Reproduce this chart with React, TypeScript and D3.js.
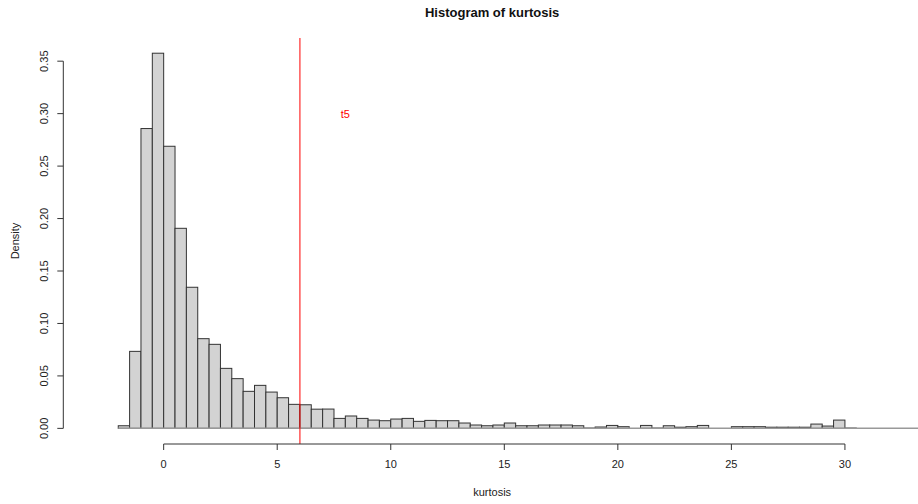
import React, { useEffect, useRef } from 'react';
import * as d3 from 'd3';

// lower edge of each 0.5-wide bin
const binStarts = [
  -2, -1.5, -1, -0.5, 0, 0.5, 1, 1.5, 2, 2.5, 3, 3.5, 4, 4.5, 5, 5.5, 6, 6.5, 7, 7.5,
  8, 8.5, 9, 9.5, 10, 10.5, 11, 11.5, 12, 12.5, 13, 13.5, 14, 14.5, 15, 15.5, 16, 16.5,
  17, 17.5, 18, 18.5, 19, 19.5, 20, 20.5, 21, 21.5, 22, 22.5, 23, 23.5, 24, 24.5, 25,
  25.5, 26, 26.5, 27, 27.5, 28, 28.5, 29, 29.5, 30,
];
const binWidth = 0.5;

const densities = [
  0.0025, 0.0734, 0.2858, 0.3576, 0.2689, 0.1907, 0.1345, 0.0855, 0.0801, 0.0572,
  0.0474, 0.0353, 0.041, 0.0346, 0.0292, 0.0229, 0.0225, 0.0183, 0.0184, 0.0095,
  0.0118, 0.0095, 0.0079, 0.0073, 0.0089, 0.0095, 0.0067, 0.0076, 0.0073, 0.0073,
  0.0051, 0.0032, 0.0025, 0.0032, 0.0051, 0.0025, 0.0025, 0.0032, 0.0032, 0.0032,
  0.0025, 0.0003, 0.0013, 0.0028, 0.0016, 0, 0.0028, 0.0003, 0.0025, 0.0011,
  0.0016, 0.0028, 0, 0, 0.0016, 0.0016, 0.0016, 0.0011, 0.0011, 0.0011,
  0.0011, 0.0041, 0.0022, 0.0079, 0.0003,
];

const xTicks = [0, 5, 10, 15, 20, 25, 30];
const yTicks = [0, 0.05, 0.1, 0.15, 0.2, 0.25, 0.3, 0.35];

const refLine = 6;
const refLabel = { x: 8, y: 0.3, text: 't5' };

const FONT = '"Liberation Sans", Arial, sans-serif';

export default function App() {
  const svgRef = useRef<SVGSVGElement>(null);

  useEffect(() => {
    const svg = d3.select(svgRef.current);
    const width = 918;
    const height = 504;
    svg.selectAll('*').remove();

    // plot region in pixels
    const left = 63.3;
    const right = 921;
    const top = 38;
    const bottom = 444;

    const x = d3.scaleLinear().domain([-4.42, 33.35]).range([left, right]);
    const y = d3.scaleLinear().domain([-0.0149, 0.3721]).range([bottom, top]);

    svg.attr('width', width).attr('height', height);

    // bars
    const bars = svg.append('g');
    binStarts.forEach((b, i) => {
      const d = densities[i];
      bars
        .append('rect')
        .attr('x', x(b))
        .attr('width', x(b + binWidth) - x(b))
        .attr('y', y(d))
        .attr('height', y(0) - y(d))
        .attr('fill', '#d3d3d3')
        .attr('stroke', '#333')
        .attr('stroke-width', 1);
    });

    // gray zero line
    svg
      .append('line')
      .attr('x1', x(binStarts[0]))
      .attr('x2', width)
      .attr('y1', y(0))
      .attr('y2', y(0))
      .attr('stroke', '#999')
      .attr('stroke-width', 1.5);

    // reference line + label
    svg
      .append('line')
      .attr('x1', x(refLine))
      .attr('x2', x(refLine))
      .attr('y1', top)
      .attr('y2', bottom)
      .attr('stroke', '#ff0000')
      .attr('stroke-width', 1);

    svg
      .append('text')
      .attr('x', x(refLabel.x))
      .attr('y', y(refLabel.y) + 4)
      .attr('text-anchor', 'middle')
      .attr('font-family', FONT)
      .attr('font-size', 11)
      .attr('fill', '#ff0000')
      .text(refLabel.text);

    // x axis
    const xa = svg.append('g').attr('stroke', '#333').attr('fill', 'none');
    xa.append('line')
      .attr('x1', x(xTicks[0]))
      .attr('x2', x(xTicks[xTicks.length - 1]))
      .attr('y1', bottom)
      .attr('y2', bottom);
    xTicks.forEach((t) => {
      xa.append('line').attr('x1', x(t)).attr('x2', x(t)).attr('y1', bottom).attr('y2', bottom + 6);
      svg
        .append('text')
        .attr('x', x(t))
        .attr('y', bottom + 24)
        .attr('text-anchor', 'middle')
        .attr('font-family', FONT)
        .attr('font-size', 11)
        .attr('fill', '#222')
        .text(t);
    });

    // y axis
    const ya = svg.append('g').attr('stroke', '#333').attr('fill', 'none');
    ya.append('line')
      .attr('x1', left)
      .attr('x2', left)
      .attr('y1', y(yTicks[0]))
      .attr('y2', y(yTicks[yTicks.length - 1]));
    yTicks.forEach((t) => {
      ya.append('line').attr('x1', left - 6).attr('x2', left).attr('y1', y(t)).attr('y2', y(t));
      svg
        .append('text')
        .attr('transform', `translate(48,${y(t)}) rotate(-90)`)
        .attr('text-anchor', 'middle')
        .attr('font-family', FONT)
        .attr('font-size', 11)
        .attr('fill', '#222')
        .text(t.toFixed(2));
    });

    // titles
    svg
      .append('text')
      .attr('x', (left + right) / 2)
      .attr('y', 17)
      .attr('text-anchor', 'middle')
      .attr('font-family', FONT)
      .attr('font-size', 13)
      .attr('font-weight', 'bold')
      .attr('fill', '#111')
      .text('Histogram of kurtosis');

    svg
      .append('text')
      .attr('x', (left + right) / 2)
      .attr('y', 496)
      .attr('text-anchor', 'middle')
      .attr('font-family', FONT)
      .attr('font-size', 11)
      .attr('fill', '#222')
      .text('kurtosis');

    svg
      .append('text')
      .attr('transform', `translate(19,${(top + bottom) / 2}) rotate(-90)`)
      .attr('text-anchor', 'middle')
      .attr('font-family', FONT)
      .attr('font-size', 11)
      .attr('fill', '#222')
      .text('Density');
  }, []);

  return (
    <div style={{ position: 'absolute', left: 0, top: 0, background: '#fff' }}>
      <svg ref={svgRef} style={{ display: 'block' }} />
    </div>
  );
}
